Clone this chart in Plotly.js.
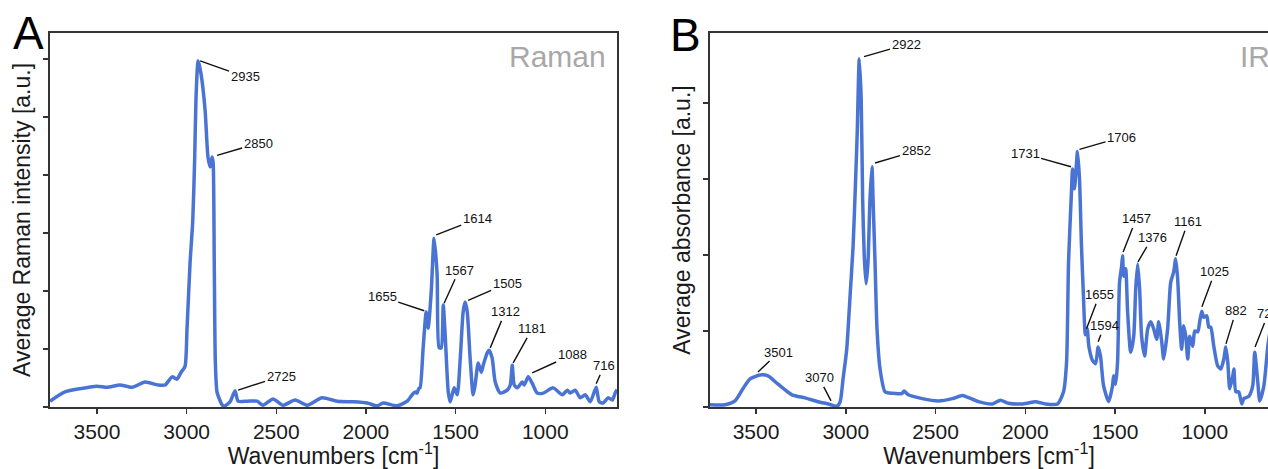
<!DOCTYPE html>
<html>
<head>
<meta charset="utf-8">
<script src="https://cdn.plot.ly/plotly-3.0.1.min.js"></script>
<style>html,body{margin:0;padding:0;background:#fff;}#chart{width:1268px;height:469px;}</style>
</head>
<body>
<div id="chart"></div>
<script>
// Raman spectrum (panel A): wavenumber [cm-1] and intensity [a.u.]
const ramanWavenumbers = [3762,3679,3606,3500,3444,3372,3305,3232,3160,3120,3081,3054,3031,3009,2998,2981,2966,2955,2948,2936,2920,2897,2881,2869,2858,2852,2846,2840,2830,2800,2786,2758,2730,2713,2660,2607,2574,2518,2462,2395,2328,2245,2161,2071,1993,1938,1904,1826,1770,1740,1726,1715,1705,1698,1681,1664,1653,1636,1620,1603,1592,1580,1569,1558,1541,1530,1508,1491,1474,1458,1447,1435,1419,1402,1391,1374,1357,1346,1324,1313,1296,1279,1251,1212,1195,1184,1173,1156,1128,1117,1095,1073,1045,1011,956,905,877,861,833,805,777,749,716,699,677,649,626,610,600];
const ramanIntensity = [0.10,0.26,0.31,0.36,0.34,0.38,0.34,0.43,0.38,0.38,0.52,0.48,0.60,0.70,1.33,2.48,3.20,4.30,5.30,5.97,5.75,5.12,4.31,4.14,4.31,4.20,2.50,0.80,0.25,0.03,0.02,0.09,0.28,0.10,0.10,0.10,0.03,0.14,0.03,0.12,0.03,0.16,0.10,0.09,0.07,0.02,0.07,0.02,0.10,0.22,0.26,0.24,0.32,0.33,1.02,1.64,1.36,1.98,2.91,2.28,1.02,1.02,1.76,1.24,0.26,0.09,0.33,0.21,0.84,1.64,1.81,1.64,0.84,0.21,0.38,0.76,0.60,0.72,0.93,0.98,0.84,0.43,0.24,0.29,0.38,0.72,0.38,0.33,0.43,0.38,0.52,0.41,0.24,0.24,0.33,0.21,0.29,0.24,0.29,0.16,0.21,0.09,0.34,0.09,0.07,0.16,0.12,0.24,0.30];

// IR spectrum (panel B): wavenumber [cm-1] and absorbance [a.u.]
const irWavenumbers = [3757,3673,3617,3573,3533,3478,3433,3377,3299,3227,3154,3098,3048,3031,3015,2995,2976,2959,2945,2936,2925,2914,2906,2897,2887,2876,2865,2854,2848,2837,2826,2809,2781,2741,2686,2675,2652,2574,2485,2406,2351,2323,2261,2183,2139,2094,2016,1988,1943,1887,1820,1787,1770,1759,1742,1737,1726,1709,1698,1687,1676,1665,1655,1646,1625,1608,1594,1581,1564,1536,1514,1508,1497,1486,1475,1463,1458,1452,1441,1430,1413,1396,1385,1374,1363,1352,1335,1318,1301,1285,1268,1257,1240,1229,1207,1190,1173,1162,1151,1140,1129,1118,1106,1095,1084,1067,1056,1039,1028,1017,1006,989,978,967,950,928,911,894,883,872,861,844,838,827,811,794,783,755,733,722,705,694,671,649,630];
const irAbsorbance = [0.03,0.03,0.08,0.24,0.37,0.42,0.41,0.30,0.16,0.12,0.07,0.04,0.01,0.07,0.37,0.75,1.46,2.12,3.00,3.62,4.58,4.05,2.74,1.99,1.62,1.91,2.74,3.16,2.74,1.91,1.03,0.50,0.20,0.18,0.18,0.21,0.16,0.11,0.08,0.11,0.15,0.13,0.07,0.04,0.09,0.05,0.04,0.05,0.07,0.04,0.04,0.20,0.59,1.91,2.87,3.13,2.87,3.36,3.00,2.12,1.46,0.95,1.03,0.80,0.61,0.57,0.79,0.67,0.28,0.07,0.28,0.41,0.30,0.59,1.64,1.86,1.99,1.72,1.82,1.25,0.72,0.93,1.55,1.88,1.55,0.93,0.67,1.03,1.12,1.03,0.89,1.12,0.86,0.63,1.03,1.64,1.78,1.95,1.68,1.12,0.76,1.07,0.93,0.63,0.93,0.80,1.00,0.99,1.13,1.26,1.18,1.20,1.05,1.05,0.80,0.54,0.50,0.63,0.79,0.59,0.24,0.41,0.50,0.20,0.20,0.04,0.11,0.14,0.28,0.72,0.33,0.08,0.28,0.80,1.10];

// Peak labels
const ramanPeakLabels = ["2935","2850","2725","1655","1614","1567","1505","1312","1181","1088","716"];
const ramanPeakX = [2925,2830,2713,1675,1608,1564,1430,1307,1179,1073,716];
const ramanPeakY = [5.97,4.34,0.29,1.66,2.97,1.79,1.84,1.02,0.76,0.59,0.40];
const irPeakLabels = ["3501","3070","2922","2852","1731","1706","1655","1594","1457","1376","1161","1025","882","720"];
const irPeakX = [3489,3082,2898,2837,1745,1698,1659,1594,1455,1372,1160,1016,882,720];
const irPeakY = [0.46,0.08,4.61,3.21,3.16,3.39,1.03,0.86,2.04,1.91,1.99,1.32,0.83,0.79];

// label text offsets (pixels)
const ramanOff = [[45,16],[41,-12],[43,-14],[-42,-14],[41,-16],[15,-33],[39,-17],[15,-36],[19,-34],[40,-18],[8,-18]];
const irOff = [[21,-20],[-12,-23],[42,-12],[41,-12],[-46,-13],[42,-12],[13,-34],[6,-16],[13,-33],[14,-24],[12,-34],[13,-35],[10,-33],[13,-33]];

const FONT = "Liberation Sans, Arial, sans-serif";
const LINE = "#4a74d4";
const AXC = "#333333";

const traces = [
  {x: ramanWavenumbers, y: ramanIntensity, xaxis: "x", yaxis: "y", type: "scatter", mode: "lines",
   line: {color: LINE, width: 3.5, shape: "spline", smoothing: 0.6}, hoverinfo: "skip"},
  {x: irWavenumbers, y: irAbsorbance, xaxis: "x2", yaxis: "y2", type: "scatter", mode: "lines",
   line: {color: LINE, width: 3.5, shape: "spline", smoothing: 0.6}, hoverinfo: "skip"}
];

const annotations = [];
ramanPeakLabels.forEach((t, i) => annotations.push({
  xref: "x", yref: "y", x: ramanPeakX[i], y: ramanPeakY[i], text: t,
  showarrow: true, arrowhead: 0, arrowwidth: 1.4, arrowcolor: "#111", standoff: 0,
  ax: ramanOff[i][0], ay: ramanOff[i][1], font: {family: FONT, size: 13, color: "#111"}
}));
irPeakLabels.forEach((t, i) => annotations.push({
  xref: "x2", yref: "y2", x: irPeakX[i], y: irPeakY[i], text: t,
  showarrow: true, arrowhead: 0, arrowwidth: 1.4, arrowcolor: "#111", standoff: 0,
  ax: irOff[i][0], ay: irOff[i][1], font: {family: FONT, size: 13, color: "#111"}
}));
annotations.push(
  {xref: "paper", yref: "paper", x: -0.018, y: 1.0, text: "A", showarrow: false, xanchor: "center", yanchor: "middle",
   font: {family: FONT, size: 46, color: "#000"}},
  {xref: "paper", yref: "paper", x: 0.522, y: 0.995, text: "B", showarrow: false, xanchor: "center", yanchor: "middle",
   font: {family: FONT, size: 46, color: "#000"}},
  {xref: "paper", yref: "paper", x: 0.458, y: 0.936, text: "Raman", showarrow: false, xanchor: "right", yanchor: "middle",
   font: {family: FONT, size: 30, color: "#a8a8a8"}},
  {xref: "paper", yref: "paper", x: 0.9754, y: 0.936, text: "IR", showarrow: false, xanchor: "left", yanchor: "middle",
   font: {family: FONT, size: 30, color: "#a8a8a8"}}
);

const xCommon = {
  autorange: false, dtick: 500, tick0: 0, ticks: "outside", ticklen: 5, tickwidth: 1.5, tickcolor: AXC,
  showline: true, linewidth: 1.8, linecolor: AXC, showgrid: false, zeroline: false, mirror: true,
  tickfont: {family: FONT, size: 21, color: "#1a1a1a"}, automargin: false,
  title: {text: "Wavenumbers [cm<sup>-1</sup>]", font: {family: FONT, size: 23, color: "#1a1a1a"}, standoff: 2}
};
const yCommon = {
  autorange: false, dtick: 1, tick0: 0, ticks: "outside", ticklen: 5, tickwidth: 1.5, tickcolor: AXC,
  showline: true, linewidth: 1.8, linecolor: AXC, showgrid: false, zeroline: false, showticklabels: false,
  automargin: false
};

const layout = {
  width: 1268, height: 469,
  paper_bgcolor: "#ffffff", plot_bgcolor: "#ffffff",
  margin: {l: 50, r: 0, t: 33, b: 62},
  showlegend: false,
  font: {family: FONT},
  xaxis: Object.assign({}, xCommon, {domain: [0, 0.4655], range: [3762, 600], anchor: "y"}),
  yaxis: Object.assign({}, yCommon, {domain: [0, 1], range: [0, 6.45], anchor: "x", mirror: true,
    title: {text: "Average Raman intensity [a.u.]", font: {family: FONT, size: 23, color: "#1a1a1a"}, standoff: 6}}),
  xaxis2: Object.assign({}, xCommon, {domain: [0.5419, 1], range: [3756, 648], anchor: "y2"}),
  yaxis2: Object.assign({}, yCommon, {domain: [0, 1], range: [0, 4.92], anchor: "x2", mirror: false,
    title: {text: "Average absorbance [a.u.]", font: {family: FONT, size: 23, color: "#1a1a1a"}, standoff: 6}}),
  annotations: annotations
};

Plotly.newPlot("chart", traces, layout, {displayModeBar: false, staticPlot: true});
</script>
</body>
</html>
